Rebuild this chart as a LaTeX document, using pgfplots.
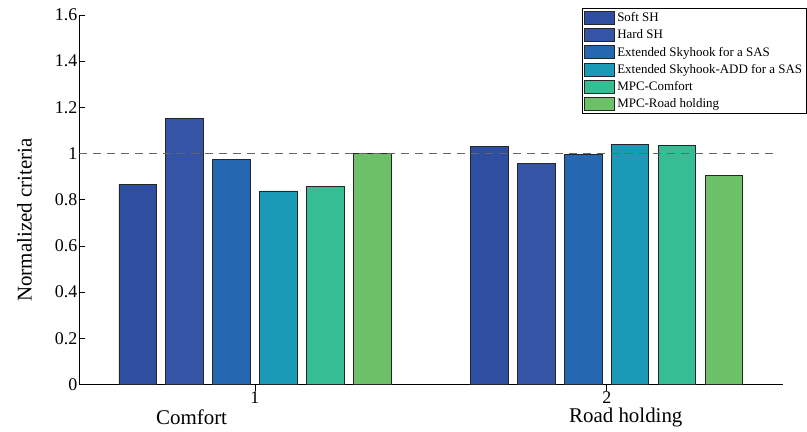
\documentclass[border=0pt]{standalone}
\usepackage{pgfplots}
\pgfplotsset{compat=1.18}
\usepackage{fontspec}
\setmainfont{Liberation Serif}
\definecolor{cA}{HTML}{2E4FA1}
\definecolor{cB}{HTML}{3654A5}
\definecolor{cC}{HTML}{2567B1}
\definecolor{cD}{HTML}{1A9AB6}
\definecolor{cE}{HTML}{35BD93}
\definecolor{cF}{HTML}{6CC168}
\begin{document}
\begin{tikzpicture}
\useasboundingbox (-79bp,-47.5bp) rectangle (728bp,384.5bp);
\begin{axis}[
  at={(0,0)}, anchor=origin,
  scale only axis,
  width=703.7bp, height=369.5bp,
  xmin=0.5, xmax=2.5, ymin=0, ymax=1.6,
  axis x line*=bottom, axis y line*=left,
  axis line style={-, black, line width=0.8bp},
  xtick={1,2}, ytick={0,0.2,...,1.6},
  tick align=inside, major tick length=6bp,
  tick style={black, line width=0.8bp},
  /pgf/number format/assume math mode=true,
  tick label style={font=\fontsize{18}{20}\selectfont},
  yticklabel style={inner sep=1.5bp},
  xticklabel style={inner sep=1bp},
  ylabel={Normalized criteria},
  ylabel style={font=\fontsize{21}{23}\selectfont, at={(ticklabel cs:0.445)}},
  ylabel shift=18bp,
  ybar, bar width=0.106,
  every axis plot/.append style={draw=black!85, line width=0.8bp},
  legend cell align=left,
  legend style={at={(rel axis cs:1.0345,1.019)}, anchor=north east,
    draw=black, line width=0.6bp, font=\fontsize{13}{14}\selectfont,
    inner sep=2.5bp, row sep=2.6bp},
  legend image code/.code={\draw[#1, line width=0.8bp] (0bp,-6.5bp) rectangle (30bp,6.5bp);},
  clip=false,
]
\addplot[fill=cA, bar shift=-0.3335] coordinates {(1,0.868) (2,1.032)};
\addplot[fill=cB, bar shift=-0.2001] coordinates {(1,1.153) (2,0.959)};
\addplot[fill=cC, bar shift=-0.0667] coordinates {(1,0.976) (2,0.998)};
\addplot[fill=cD, bar shift=0.0667] coordinates {(1,0.838) (2,1.041)};
\addplot[fill=cE, bar shift=0.2001] coordinates {(1,0.858) (2,1.036)};
\addplot[fill=cF, bar shift=0.3335] coordinates {(1,1.002) (2,0.905)};
\legend{Soft SH, Hard SH, Extended Skyhook for a SAS, Extended Skyhook-ADD for a SAS, MPC-Comfort, MPC-Road holding}
\addplot[sharp plot, no marks, draw=black!60, line width=0.8bp, dash pattern=on 8bp off 6bp, forget plot] coordinates {(0.5,1) (2.485,1)};
\node[font=\fontsize{21}{23}\selectfont, anchor=center] at (axis cs:0.82,-0.142) {Comfort};
\node[font=\fontsize{21}{23}\selectfont, anchor=center] at (axis cs:2.054,-0.142) {Road holding};
\end{axis}
\end{tikzpicture}
\end{document}
